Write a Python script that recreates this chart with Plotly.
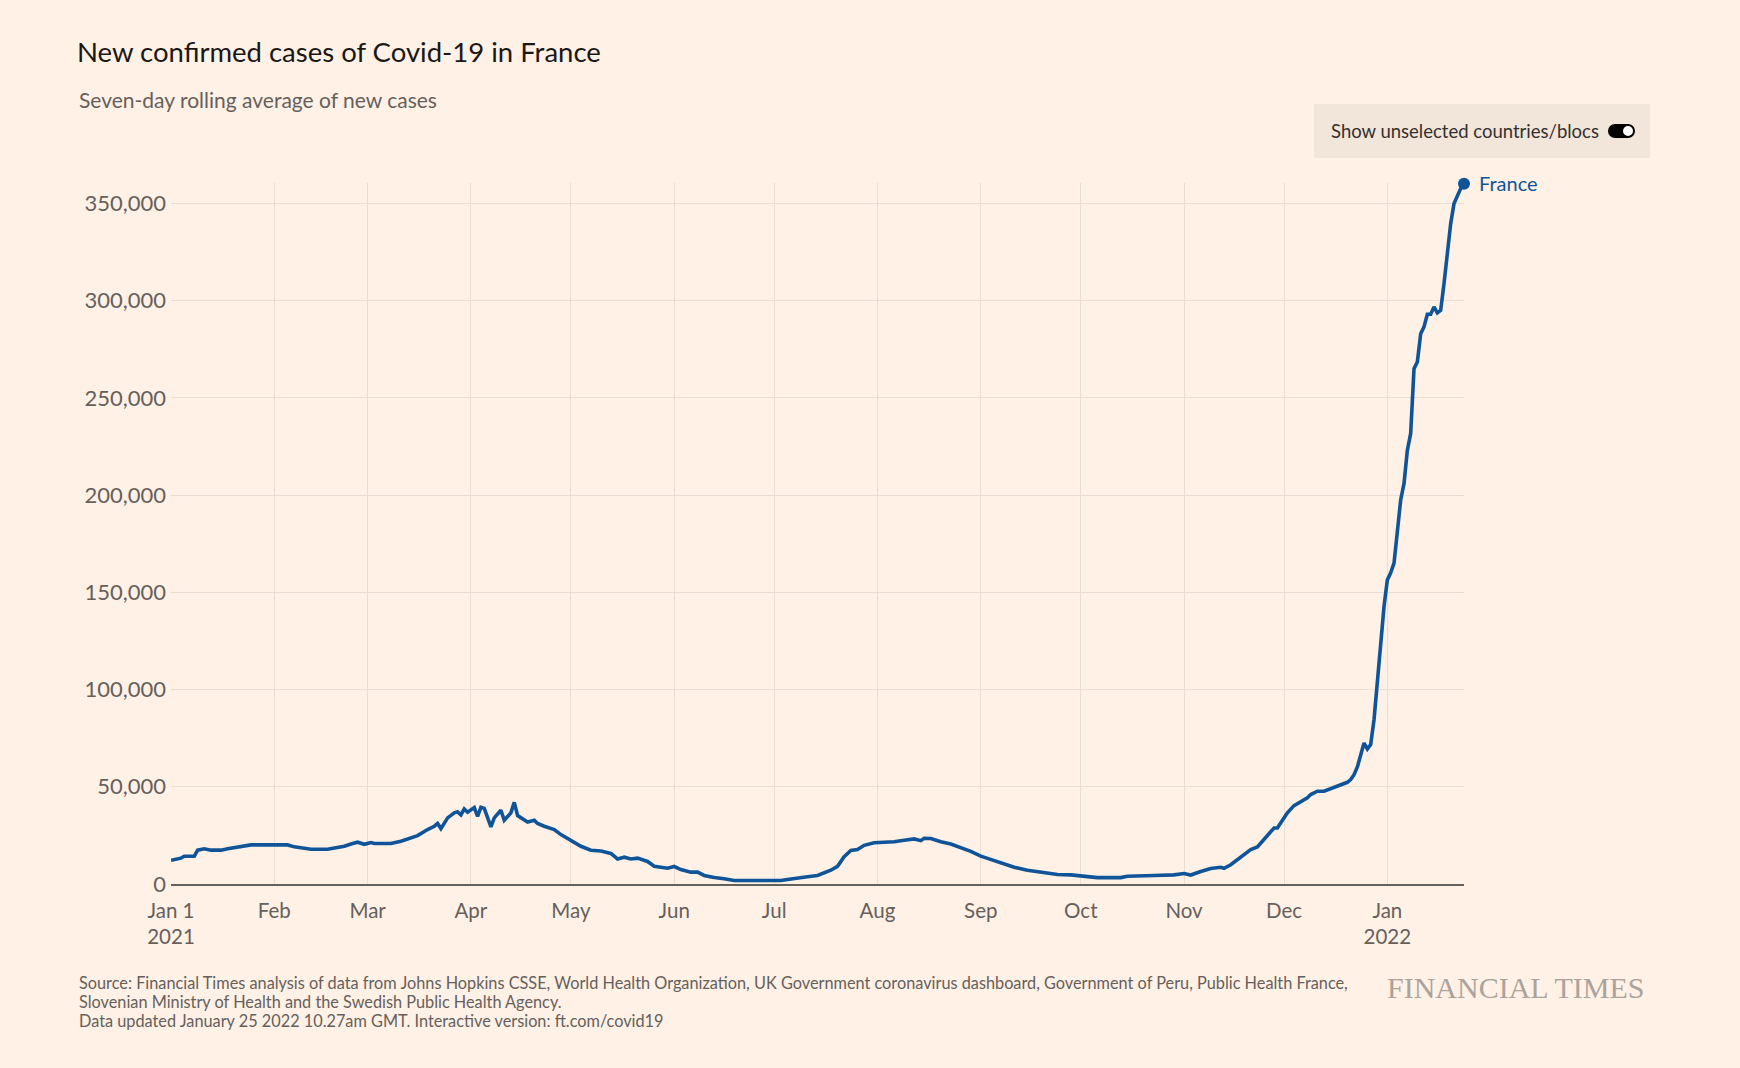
import datetime as dt
import plotly.graph_objects as go

# ---- data ----
start = dt.date(2021, 1, 1)
day_offsets = [0, 3, 4, 7, 8, 10, 12, 15, 17, 19, 22, 24, 31, 35, 37, 40, 42, 47, 49, 52,
               54, 56, 58, 60, 61, 66, 69, 72, 74, 77, 79, 80, 81, 83, 85, 86, 87, 88, 89, 91,
               92, 93, 94, 96, 97, 99, 100, 102, 103, 104, 106, 107, 109, 110, 112, 115, 117, 120, 121, 123,
               126, 129, 132, 134, 136, 138, 140, 143, 145, 147, 149, 151, 153, 156, 158, 160, 163, 166, 169, 176,
               183, 185, 188, 191, 194, 196, 198, 200, 202, 204, 206, 208, 211, 214, 217, 220, 223, 225, 226, 228,
               231, 234, 237, 240, 243, 246, 249, 253, 257, 261, 266, 270, 273, 278, 285, 287, 295, 301, 304, 306,
               309, 312, 315, 316, 318, 320, 323, 324, 326, 327, 328, 329, 331, 332, 333, 334, 335, 337, 339, 341,
               342, 344, 346, 348, 350, 352, 353, 354, 355, 356, 357, 358, 359, 360, 361, 362, 363, 364, 365, 366,
               367, 368, 369, 370, 371, 372, 373, 374, 375, 376, 377, 378, 379, 380, 381, 382, 383, 384, 385, 387,
               388]
cases = [12200, 13300, 14300, 14300, 17400, 18100, 17400, 17400, 18100, 18600, 19800, 20100, 20100, 20100, 19100, 18600, 17900, 17900, 18600, 19400,
         20600, 21500, 20400, 21300, 20800, 20800, 22000, 23500, 24900, 28000, 29700, 31100, 28500, 34000, 36600, 37100, 35500, 38600, 36900, 39300,
         34800, 39500, 38900, 29400, 34000, 37900, 32800, 36600, 42000, 35200, 33100, 31900, 32800, 31100, 29700, 28000, 25400, 22500, 21200, 19400,
         17400, 17000, 15700, 12900, 13800, 12900, 13300, 11600, 9100, 8800, 8100, 9000, 7400, 6100, 6100, 4400, 3300, 2700, 1800, 1800,
         1800, 2300, 2800, 3700, 4400, 5600, 7100, 9100, 14000, 17200, 17700, 19900, 21200, 21500, 21700, 22500, 23200, 22300, 23500, 23400,
         21700, 20600, 18900, 16800, 14300, 12600, 10500, 8600, 7100, 6100, 4900, 4700, 4000, 3300, 3300, 4000, 4400, 4700, 5400, 4600,
         6400, 8000, 8600, 8100, 9900, 12600, 16500, 17700, 19000, 21000, 22500, 24500, 28800, 28800, 31400, 33500, 36600, 40300, 42500, 44300,
         46000, 47700, 47700, 49000, 50600, 51600, 52300, 53700, 56200, 60200, 65700, 72500, 69400, 71700, 84500, 105000, 125600, 142700, 156400, 160000,
         165000, 180000, 197500, 206000, 223000, 231700, 265000, 268500, 283000, 286500, 293000, 293000, 296800, 293700, 295000, 308800, 325900, 339600, 349900, 357600,
         360100]
dates = [start + dt.timedelta(days=d) for d in day_offsets]

month_ticks = ["2021-01-01", "2021-02-01", "2021-03-01", "2021-04-01", "2021-05-01", "2021-06-01",
               "2021-07-01", "2021-08-01", "2021-09-01", "2021-10-01", "2021-11-01", "2021-12-01", "2022-01-01"]
month_labels = ["Jan 1<br>2021", "Feb", "Mar", "Apr", "May", "Jun", "Jul", "Aug", "Sep", "Oct", "Nov", "Dec", "Jan<br>2022"]
y_ticks = [0, 50000, 100000, 150000, 200000, 250000, 300000, 350000]

footer_lines = [
    "Source: Financial Times analysis of data from Johns Hopkins CSSE, World Health Organization, "
    "UK Government coronavirus dashboard, Government of Peru, Public Health France,",
    "Slovenian Ministry of Health and the Swedish Public Health Agency.",
    "Data updated January 25 2022 10.27am GMT. Interactive version: ft.com/covid19",
]

# ---- layout geometry ----
W, H = 1740, 1068
L, R, T, B = 171, 276, 183, 183.5
PW, PH = W - L - R, H - T - B

def px(x):
    return (x - L) / PW

def py(y):
    return (H - B - y) / PH

BG = "#fff1e5"
GRID = "#e9ddd1"
GREY = "#66605c"
BLUE = "#0f5499"
FONT = "Lato"

fig = go.Figure()
fig.add_trace(go.Scatter(x=dates, y=cases, mode="lines",
                         line=dict(color=BLUE, width=3.6), hoverinfo="skip",
                         showlegend=False))
fig.add_trace(go.Scatter(x=[dates[-1]], y=[cases[-1]], mode="markers",
                         marker=dict(color=BLUE, size=12), cliponaxis=False,
                         hoverinfo="skip", showlegend=False))

fig.update_layout(
    width=W, height=H,
    margin=dict(l=L, r=R, t=T, b=B, autoexpand=False),
    paper_bgcolor=BG, plot_bgcolor=BG,
    font=dict(family=FONT, color=GREY),
    title=dict(text="New confirmed cases of Covid-19 in France",
               x=77 / W, xanchor="left", y=1 - 52 / H, yanchor="middle",
               xref="container", yref="container",
               font=dict(family=FONT, size=27.5, color="#1a1817")),
    xaxis=dict(range=[dt.date(2021, 1, 1), dt.date(2022, 1, 24)],
               tickvals=month_ticks, ticktext=month_labels,
               showgrid=True, gridcolor=GRID, gridwidth=1,
               showline=True, linecolor=GREY, linewidth=2,
               ticks="", ticklabelstandoff=7, tickfont=dict(size=20.5, color=GREY),
               zeroline=False, fixedrange=True),
    yaxis=dict(range=[0, 360500], tickvals=y_ticks, tickformat=",",
               showgrid=True, gridcolor=GRID, gridwidth=1,
               showline=False, zeroline=False, ticks="", ticklabelstandoff=4,
               tickfont=dict(size=22, color=GREY), fixedrange=True),
)

ann = []
ann.append(dict(text="Seven-day rolling average of new cases", x=px(77), y=py(99),
                xanchor="left", yanchor="middle", showarrow=False,
                font=dict(size=21, color=GREY)))
ann.append(dict(text="France", x=px(1477), y=py(183), xanchor="left", yanchor="middle",
                showarrow=False, font=dict(size=20, color=BLUE)))
ann.append(dict(text="Show unselected countries/blocs", x=px(1329), y=py(131),
                xanchor="left", yanchor="middle", showarrow=False,
                font=dict(size=18.5, color="#33302e")))
for i, line in enumerate(footer_lines):
    ann.append(dict(text=line, x=px(77), y=py(983 + 19 * i), xanchor="left", yanchor="middle",
                    align="left", showarrow=False, font=dict(size=16.3, color=GREY)))
ann.append(dict(text="FINANCIAL TIMES", x=px(1647), y=py(988), xanchor="right", yanchor="middle",
                showarrow=False, font=dict(family="Liberation Serif", size=30, color="#aba39c")))
for a in ann:
    a.update(xref="paper", yref="paper")
fig.update_layout(annotations=ann)

shapes = [
    dict(type="rect", x0=px(1314), x1=px(1650), y0=py(104), y1=py(158),
         fillcolor="#f2e5da", line=dict(width=0)),
    dict(type="rect", x0=px(1615), x1=px(1628), y0=py(124), y1=py(138),
         fillcolor="#000000", line=dict(width=0)),
    dict(type="circle", x0=px(1608), x1=px(1622), y0=py(124), y1=py(138),
         fillcolor="#000000", line=dict(width=0)),
    dict(type="circle", x0=px(1621), x1=px(1635), y0=py(124), y1=py(138),
         fillcolor="#000000", line=dict(width=0)),
    dict(type="circle", x0=px(1623), x1=px(1633), y0=py(126), y1=py(136),
         fillcolor="#ffffff", line=dict(width=0)),
]
for s in shapes:
    s.update(xref="paper", yref="paper", layer="above")
fig.update_layout(shapes=shapes)

fig.write_html("out.html", config=dict(displayModeBar=False))
